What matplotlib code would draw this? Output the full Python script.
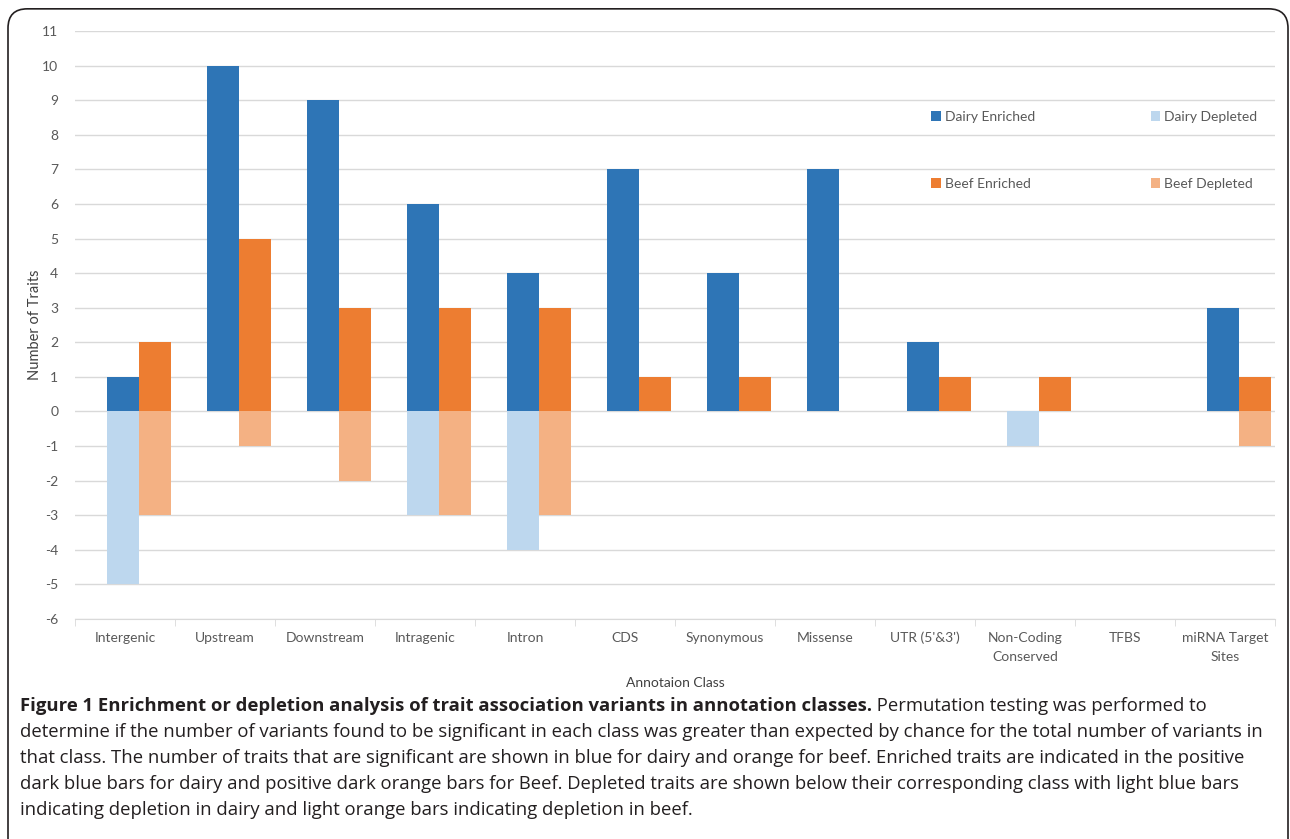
import numpy as np
import matplotlib.pyplot as plt
from matplotlib.patches import FancyBboxPatch

categories = ["Intergenic", "Upstream", "Downstream", "Intragenic", "Intron", "CDS",
              "Synonymous", "Missense", "UTR (5'&3')", "Non-Coding\nConserved", "TFBS",
              "miRNA Target\nSites"]
dairy_enriched = [1, 10, 9, 6, 4, 7, 4, 7, 2, 0, 0, 3]
dairy_depleted = [-5, 0, 0, -3, -4, 0, 0, 0, 0, -1, 0, 0]
beef_enriched = [2, 5, 3, 3, 3, 1, 1, 0, 1, 1, 0, 1]
beef_depleted = [-3, -1, -2, -3, -3, 0, 0, 0, 0, 0, 0, -1]
yticks = list(range(-6, 12))

c_de = "#2E75B6"
c_dd = "#BDD7EE"
c_be = "#ED7D31"
c_bd = "#F4B183"
grey = "#595959"

chart_font = ["Lato", "DejaVu Sans"]
cap_font = ["Open Sans", "DejaVu Sans"]

fig = plt.figure(figsize=(12.9, 8.39), dpi=100)
ax = fig.add_axes([75/1290, 1-619/839, 1200/1290, 588/839])

x = np.arange(len(categories))
w = 0.32
xd = x - 0.02
xb = x + 0.30
b_de = ax.bar(xd, dairy_enriched, w, color=c_de, label="Dairy Enriched", zorder=3)
b_dd = ax.bar(xd, dairy_depleted, w, color=c_dd, label="Dairy Depleted", zorder=3)
b_be = ax.bar(xb, beef_enriched, w, color=c_be, label="Beef Enriched", zorder=3)
b_bd = ax.bar(xb, beef_depleted, w, color=c_bd, label="Beef Depleted", zorder=3)

ax.set_xlim(-0.5, len(categories) - 0.5)
ax.set_ylim(-6, 11)
ax.set_yticks(yticks)
ax.set_yticklabels([str(v) for v in yticks], fontsize=10, color=grey, family=chart_font)
ax.set_xticks(x)
ax.set_xticklabels(categories, fontsize=10, color=grey, family=chart_font, linespacing=1.75)
ax.set_xticks(np.arange(len(categories) + 1) - 0.5, minor=True)
ax.tick_params(axis="x", which="major", length=0, pad=9)
ax.tick_params(axis="x", which="minor", length=5, color="#D9D9D9")
ax.tick_params(axis="y", length=0, pad=12)
ax.grid(axis="y", color="#D9D9D9", linewidth=1, zorder=0)
for s in ["top", "right", "left"]:
    ax.spines[s].set_visible(False)
ax.spines["bottom"].set_color("#D9D9D9")

ax.set_ylabel("Number of Traits", fontsize=10.5, color="#404040", family=chart_font, labelpad=0)
ax.set_xlabel("Annotaion Class", fontsize=10, color="#404040", family=chart_font, va="center")
ax.xaxis.set_label_coords(0.5, (619 - 683) / 588)

ax.legend([b_de, b_be, b_dd, b_bd],
          ["Dairy Enriched", "Beef Enriched", "Dairy Depleted", "Beef Depleted"],
          ncol=2, loc="upper left", bbox_to_anchor=(0.703, 0.885), frameon=False,
          prop={"family": chart_font, "size": 10}, labelcolor=grey,
          handlelength=0.7, handleheight=0.7, handletextpad=0.3,
          columnspacing=8.3, labelspacing=3.95)

# caption
fig.canvas.draw()
renderer = fig.canvas.get_renderer()
x0 = 20 / 1290
fs = 13.3
bold = fig.text(x0, 1 - 706/839, "Figure 1 Enrichment or depletion analysis of trait association variants in annotation classes.",
                fontsize=fs, fontweight="bold", family=cap_font, va="center", color="#231F20")
bb = bold.get_window_extent(renderer)
fig.text(bb.x1 / fig.bbox.width, 1 - 706/839, " Permutation testing was performed to",
         fontsize=fs, family=cap_font, va="center", color="#231F20")
lines = [
    "determine if the number of variants found to be significant in each class was greater than expected by chance for the total number of variants in",
    "that class. The number of traits that are significant are shown in blue for dairy and orange for beef. Enriched traits are indicated in the positive",
    "dark blue bars for dairy and positive dark orange bars for Beef. Depleted traits are shown below their corresponding class with light blue bars",
    "indicating depletion in dairy and light orange bars indicating depletion in beef.",
]
for i, ln in enumerate(lines):
    fig.text(x0, 1 - (732 + 26*i)/839, ln, fontsize=fs, family=cap_font, va="center", color="#231F20")

border = FancyBboxPatch((8/1290, -20/839), 1280/1290, (839 - 8 + 20)/839 - 0.001,
                        boxstyle="round,pad=0,rounding_size=0.015", transform=fig.transFigure,
                        fill=False, edgecolor="#231F20", linewidth=1.2, mutation_aspect=1290/839)
fig.patches.append(border)

fig.savefig("out.png", dpi=100)
